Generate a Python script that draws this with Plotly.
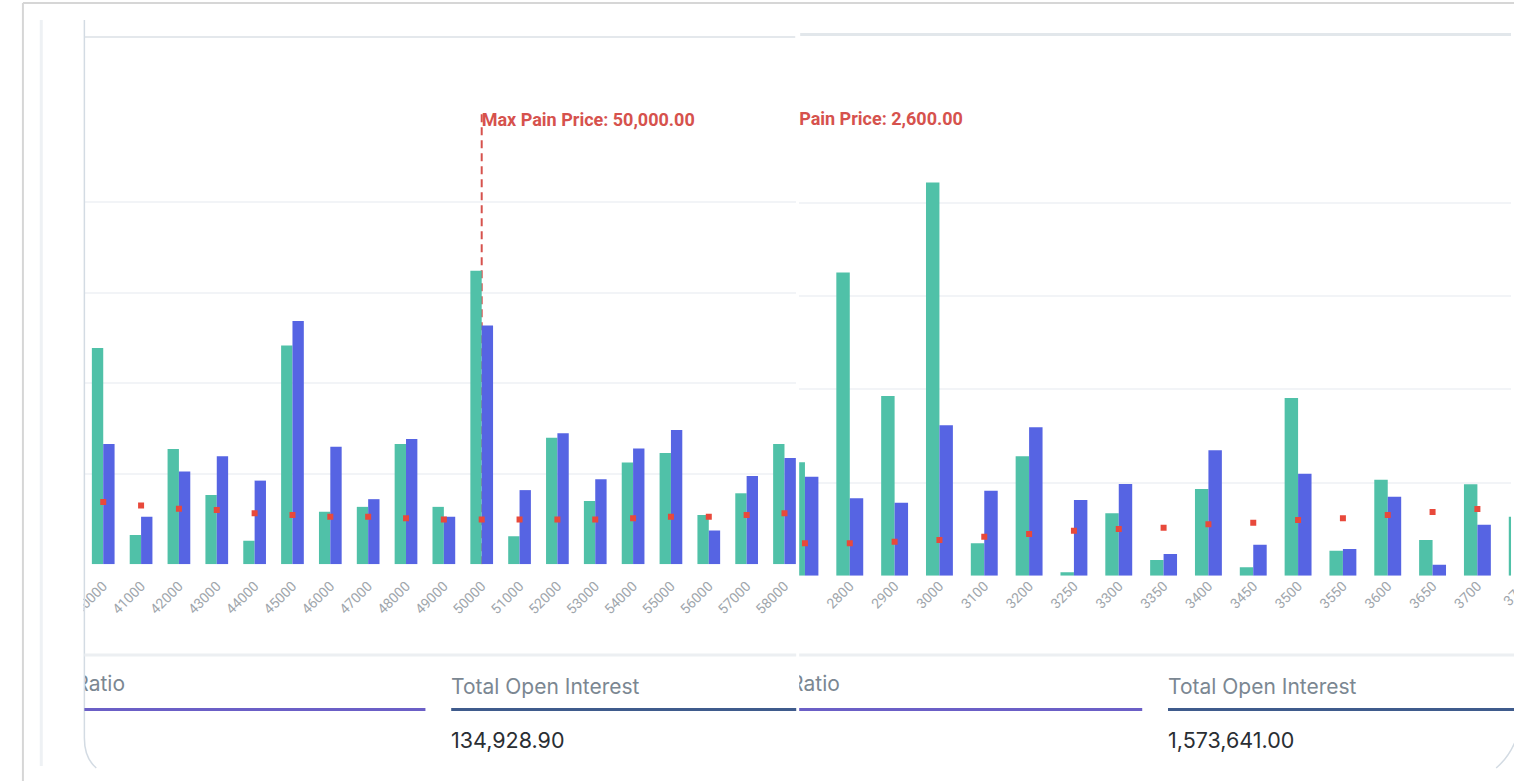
import plotly.graph_objects as go

W, H = 1514, 781

# ---------------- data ----------------
# Left chart (strikes 40000 .. 58000)
left_strikes = ["40000", "41000", "42000", "43000", "44000", "45000", "46000", "47000", "48000", "49000",
                "50000", "51000", "52000", "53000", "54000", "55000", "56000", "57000", "58000"]
left_calls = [4780, 650, 2550, 1530, 520, 4840, 1160, 1270, 2660, 1270,
              6490, 620, 2800, 1400, 2250, 2460, 1090, 1570, 2660]
left_puts = [2660, 1050, 2050, 2390, 1850, 5380, 2600, 1440, 2770, 1050,
             5280, 1640, 2900, 1880, 2560, 2970, 750, 1950, 2350]
left_pain = [1380, 1300, 1230, 1200, 1130, 1090, 1050, 1050, 1020, 990,
             990, 990, 990, 990, 1020, 1050, 1050, 1090, 1130]
left_max_pain = "50000"
left_max_pain_label = "Max Pain Price: 50,000.00"
left_total_oi = "134,928.90"

# Right chart (strikes 2700 .. 3750), max pain at 2600 (just left of view)
right_categories = ["2600", "2700", "2800", "2900", "3000", "3100", "3200", "3250", "3300", "3350",
                    "3400", "3450", "3500", "3550", "3600", "3650", "3700", "3750"]
right_strikes = right_categories[1:]
right_calls = [24360, 65090, 38600, 84420, 6960, 25650, 730, 13400, 3370,
               18620, 1800, 38170, 5370, 20620, 7670, 19630, 12670]
right_puts = [21270, 16630, 15680, 32310, 18260, 31880, 16260, 19700, 4660,
              26940, 6660, 21910, 5740, 16970, 2360, 10960, None]
right_pain = [6960, 6960, 7300, 7670, 8380, 8960, 9670, 10030, 10310,
              11040, 11380, 11960, 12330, 13040, 13680, 14330, None]
right_max_pain = "2600"
right_max_pain_label = "Max Pain Price: 2,600.00"
right_total_oi = "1,573,641.00"

ratio_title = "Ratio"
oi_title = "Total Open Interest"

# ---------------- style ----------------
GREEN = "#50c1a8"
BLUE = "#5664e3"
RED = "#e8493b"
PAIN_RED = "#d6524d"
TICK_GRAY = "#a0a6ac"
GRID = "#f2f4f7"
FONT = "Roboto"
UI_FONT = "Inter"

left_step, left_top = 2000, 10000
right_step, right_top = 20000, 100000


def px(x):
    return x / W


def py(y):
    return 1 - y / H


fig = go.Figure()

pain_font = dict(family=FONT, size=18, color=PAIN_RED, weight=700)

# left bars
fig.add_trace(go.Bar(x=left_strikes, y=left_calls, marker_color=GREEN, marker_line_width=0,
                     xaxis="x", yaxis="y", name="Calls"))
fig.add_trace(go.Bar(x=left_strikes, y=left_puts, marker_color=BLUE, marker_line_width=0,
                     xaxis="x", yaxis="y", name="Puts"))
fig.add_trace(go.Scatter(x=left_strikes, y=left_pain, mode="markers",
                         marker=dict(symbol="square", size=6, color=RED),
                         xaxis="x", yaxis="y", name="Pain", cliponaxis=True))
fig.add_trace(go.Scatter(x=[left_max_pain], y=[left_top * 0.978], mode="text",
                         text=[left_max_pain_label], textposition="middle right",
                         textfont=pain_font,
                         xaxis="x", yaxis="y", cliponaxis=True, hoverinfo="skip"))

# right bars
fig.add_trace(go.Bar(x=right_strikes, y=right_calls, marker_color=GREEN, marker_line_width=0,
                     xaxis="x2", yaxis="y2", name="Calls"))
fig.add_trace(go.Bar(x=right_strikes, y=right_puts, marker_color=BLUE, marker_line_width=0,
                     xaxis="x2", yaxis="y2", name="Puts"))
fig.add_trace(go.Scatter(x=right_strikes, y=right_pain, mode="markers",
                         marker=dict(symbol="square", size=6, color=RED),
                         xaxis="x2", yaxis="y2", name="Pain", cliponaxis=True))
fig.add_trace(go.Scatter(x=[right_max_pain], y=[right_top * 0.978], mode="text",
                         text=[right_max_pain_label], textposition="middle right",
                         textfont=pain_font,
                         xaxis="x2", yaxis="y2", cliponaxis=True, hoverinfo="skip"))

# clipped "Ratio" headers in the bottom strip
for xa, ya in (("x3", "y3"), ("x4", "y4")):
    fig.add_trace(go.Scatter(x=[41], y=[0.5], mode="text", text=[ratio_title],
                             textposition="middle left",
                             textfont=dict(family=UI_FONT, size=21, color="#7b8792"),
                             xaxis=xa, yaxis=ya, cliponaxis=True, hoverinfo="skip"))

tickfont = dict(family=FONT, size=14, color=TICK_GRAY)

fig.update_layout(
    width=W, height=H, margin=dict(l=0, r=0, t=0, b=0),
    paper_bgcolor="white", plot_bgcolor="rgba(0,0,0,0)",
    showlegend=False, barmode="group", bargap=0.4, bargroupgap=0,
    xaxis=dict(domain=[px(72), px(790)], type="category", categoryorder="array",
               categoryarray=left_strikes, range=[-0.498, 18.31], tickangle=-45,
               tickfont=tickfont, showgrid=False, showline=False, ticks="", zeroline=False,
               ticklabelstandoff=10),
    yaxis=dict(domain=[py(564.3), py(112)], range=[0, left_top], dtick=left_step,
               showticklabels=False, showgrid=True, gridcolor=GRID, gridwidth=2,
               zeroline=False, showline=False, ticks=""),
    xaxis2=dict(domain=[px(793), px(1511)], type="category", categoryorder="array",
                categoryarray=right_categories, range=[0.8715, 16.75], tickangle=-45,
                tickmode="array", tickvals=right_categories[2:], ticktext=right_categories[2:],
                tickfont=tickfont, showgrid=False, showline=False, ticks="", zeroline=False,
                ticklabelstandoff=10),
    yaxis2=dict(domain=[py(575.7), py(110)], range=[0, right_top], dtick=right_step,
                showticklabels=False, showgrid=True, gridcolor=GRID, gridwidth=2,
                zeroline=False, showline=False, ticks=""),
    xaxis3=dict(domain=[px(72), px(790)], range=[0, 718], visible=False),
    yaxis3=dict(domain=[py(700), py(672)], range=[0, 1], visible=False),
    xaxis4=dict(domain=[px(793), px(1511)], range=[0, 718], visible=False),
    yaxis4=dict(domain=[py(700), py(672)], range=[0, 1], visible=False),
)

shapes = []
# max pain dashed lines (below bars, clipped to plot)
shapes.append(dict(type="line", xref="x", yref="y",
                   x0=left_strikes.index(left_max_pain), x1=left_strikes.index(left_max_pain),
                   y0=0, y1=left_top, layer="below",
                   line=dict(color=PAIN_RED, width=2, dash="8px,5px")))
shapes.append(dict(type="line", xref="x2", yref="y2",
                   x0=right_categories.index(right_max_pain), x1=right_categories.index(right_max_pain),
                   y0=0, y1=right_top, layer="below",
                   line=dict(color=PAIN_RED, width=2, dash="8px,5px")))


def pline(x0, y0, x1, y1, color, width):
    return dict(type="line", xref="paper", yref="paper", x0=px(x0), y0=py(y0),
                x1=px(x1), y1=py(y1), layer="above", line=dict(color=color, width=width))


# white cover to the left of the left card (clips the first tick label)
shapes.append(dict(type="rect", xref="paper", yref="paper", x0=0, x1=px(71), y0=py(650), y1=py(566),
                   fillcolor="white", line=dict(width=0), layer="above"))
# outer page frame
shapes.append(pline(10, 3, 1514, 3, "#d6d6d6", 2))
shapes.append(pline(10, 3, 10, 781, "#d6d6d6", 2))
shapes.append(pline(28.5, 20, 28.5, 766, "#eef1f4", 3))
# card tops
shapes.append(pline(72, 37, 789, 37, "#e4e8ec", 2))
shapes.append(pline(794, 34.5, 1511, 34.5, "#e2e7eb", 3))
# left card border with rounded corner
shapes.append(dict(type="path", xref="paper", yref="paper", layer="above",
                   path=f"M {px(72)},{py(20)} L {px(72)},{py(738)} Q {px(72)},{py(758)} {px(84)},{py(768)}",
                   line=dict(color="#d3dbe3", width=1.5)))
# right card rounded corner
shapes.append(dict(type="path", xref="paper", yref="paper", layer="above",
                   path=f"M {px(1515)},{py(742)} Q {px(1508)},{py(758)} {px(1496)},{py(768)}",
                   line=dict(color="#d3dbe3", width=1.5)))
# separators under the charts
shapes.append(pline(72, 655, 790, 655, "#eceff2", 3))
shapes.append(pline(793, 655, 1514, 655, "#eceff2", 3))
# metric underlines
shapes.append(pline(72, 709.5, 416, 709.5, "#6b5fc6", 3))
shapes.append(pline(442, 709.5, 790, 709.5, "#3f5b8c", 3))
shapes.append(pline(793, 709.5, 1139, 709.5, "#6b5fc6", 3))
shapes.append(pline(1165, 709.5, 1514, 709.5, "#3f5b8c", 3))
fig.update_layout(shapes=shapes)

annotations = []
for x0, val in ((442, left_total_oi), (1165, right_total_oi)):
    annotations.append(dict(xref="paper", yref="paper", x=px(x0 - 2), y=py(686), xanchor="left",
                            yanchor="middle", showarrow=False, text=oi_title,
                            font=dict(family=UI_FONT, size=21, color="#7b8792")))
    annotations.append(dict(xref="paper", yref="paper", x=px(x0 - 2), y=py(740), xanchor="left",
                            yanchor="middle", showarrow=False, text=val,
                            font=dict(family=UI_FONT, size=21.5, color="#2a2e33")))
# last strike label of the right chart, running off the page edge
annotations.append(dict(xref="paper", yref="paper", x=px(1517), y=py(592), xanchor="center",
                        yanchor="middle", showarrow=False, text=right_strikes[-1], textangle=-45,
                        font=tickfont))
fig.update_layout(annotations=annotations)

fig.write_html("out.html", config={"displayModeBar": False},
               post_script="document.body.style.margin='0';document.body.style.overflow='hidden';")
